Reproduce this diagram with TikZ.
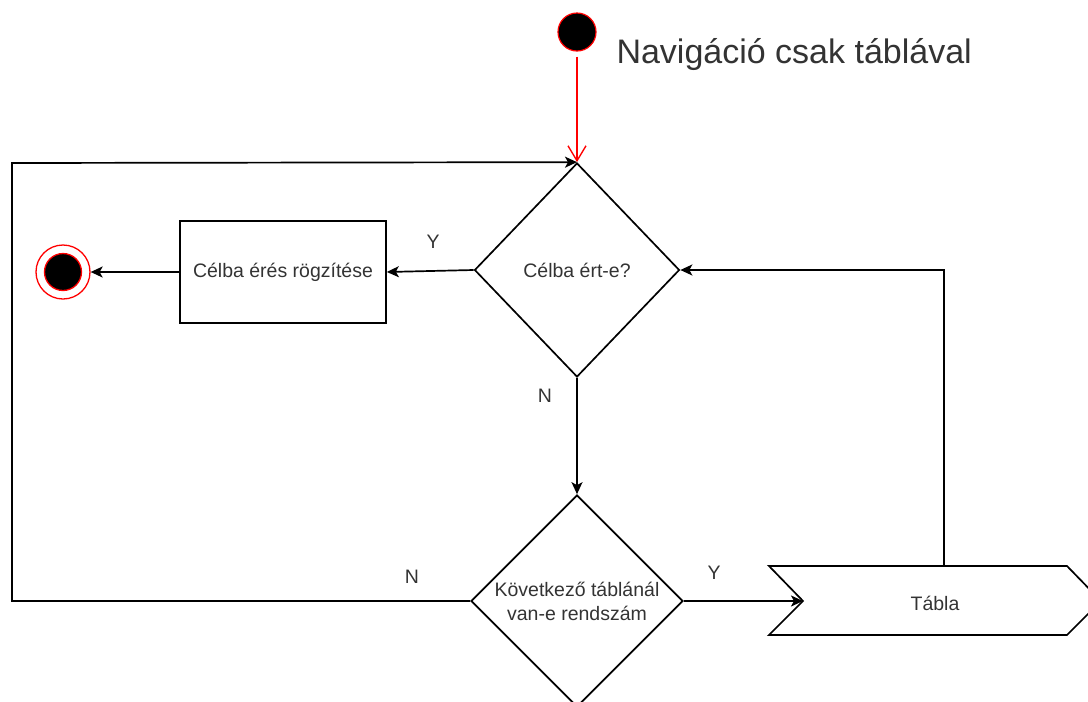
\documentclass[tikz,border=0pt]{standalone}
\usepackage{fontspec}
\setmainfont{Liberation Sans}
\usetikzlibrary{arrows.meta,shapes.geometric}
\definecolor{txt}{HTML}{333333}
\begin{document}
\begin{tikzpicture}[x=1pt,y=-1pt,
  base/.style={font=\fontsize{19.5}{24}\selectfont, text=txt},
  dec/.style={diamond, draw=black, line width=1.7pt, inner sep=0pt, align=center, base},
  box/.style={rectangle, draw=black, line width=1.7pt, minimum width=206pt, minimum height=102pt, base},
  conn/.style={draw=black, line width=1.7pt, -{Stealth[length=12pt,width=11pt,inset=3pt]}},
  lbl/.style={base}]
\useasboundingbox (0,0) rectangle (1088,702);
\clip (0,0) rectangle (1088,702);
% start
\node[circle, fill=black, draw=red, line width=1.2pt, minimum size=38pt, inner sep=0pt] (s) at (577,32) {};
\node[base, anchor=west, font=\fontsize{34}{40}\selectfont] (title) at (613,55) {Navigáció csak táblával};
% decisions
\node[dec, minimum width=205pt, minimum height=214pt] (d1) at (577,270) {Célba ért-e?};
\node[dec, minimum width=212pt, minimum height=212pt] (d2) at (577,601) {Következő táblánál\\van-e rendszám};
% box
\node[box] (r) at (283,272) {Célba érés rögzítése};
% end
\node[circle, draw=red, line width=1.3pt, minimum size=54pt, inner sep=0pt] (e) at (63,272) {};
\node[circle, fill=black, draw=red, line width=1.3pt, minimum size=37pt, inner sep=0pt] (ein) at (e) {};
% Tabla
\draw[line width=1.7pt, line join=miter] (769,566) -- (1067,566) -- (1101,601) -- (1067,635) -- (769,635) -- (803,601) -- cycle;
\coordinate (tin) at (803,601);
\coordinate (ttop) at (944,566);
\node[base] (t) at (935,603) {Tábla};
% loop coordinates
\coordinate (lb) at (12,601);
\coordinate (lt) at (12,163);
% connectors
\draw[red, line width=1.4pt, shorten <=5pt, -{Straight Barb[length=15pt,width=18pt,line width=1.4pt]}] (s) -- (d1.north);
\draw[conn] (d1.west) -- (r.east);
\draw[conn] (r.west) -- (e.east);
\draw[conn] (d1.south) -- (d2.north);
\draw[conn] (d2.west) -- (lb) -- (lt) -- (d1.north);
\draw[conn] (d2.east) -- (tin);
\draw[conn] (ttop) |- (d1.east);
% labels
\node[lbl] (y1) at (433,242) {Y};
\node[lbl] (n1) at (545,396) {N};
\node[lbl] (n2) at (412,577) {N};
\node[lbl] (y2) at (714,573) {Y};
\end{tikzpicture}
\end{document}
